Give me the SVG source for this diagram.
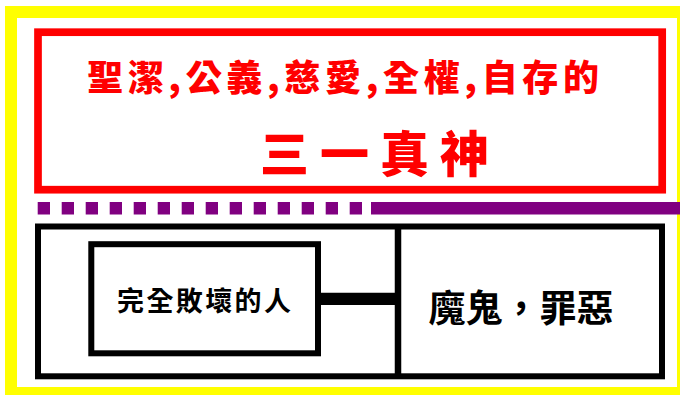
<svg xmlns="http://www.w3.org/2000/svg" width="680" height="395" viewBox="0 0 680 395">
  <style>
    .frame { fill: none; stroke: #000; stroke-width: 6; }
    .red { font-family: "Noto Sans CJK TC", "Noto Sans CJK SC", sans-serif; font-weight: 900; fill: #ff0000; text-anchor: middle; }
    .blk { font-family: "Noto Sans CJK TC", "Noto Sans CJK SC", serif; font-weight: 700; fill: #000; text-anchor: middle; }
  </style>
  <rect x="0" y="0" width="680" height="395" fill="#ffffff"/>
  <g id="border">
    <rect x="11" y="12" width="672" height="381" fill="none" stroke="#ffff00" stroke-width="12"/>
  </g>
  <g id="title">
    <rect x="38" y="32.2" width="624.2" height="157.5" fill="none" stroke="#ff0000" stroke-width="7.7"/>
    <text class="red" x="343" y="91" font-size="36" textLength="512">聖潔,公義,慈愛,全權,自存的</text>
    <text class="red" x="374.5" y="172" font-size="49" textLength="229">三一真神</text>
  </g>
  <g id="separator">
    <line x1="37.7" y1="208.3" x2="362.5" y2="208.3" stroke="#800080" stroke-width="12.5" stroke-dasharray="12.3 11.7"/>
    <line x1="371" y1="208.3" x2="680" y2="208.3" stroke="#800080" stroke-width="12.5"/>
  </g>
  <g id="outer-box">
    <rect class="frame" x="38" y="226.5" width="624" height="149.8"/>
    <line x1="398" y1="226.5" x2="398" y2="376.3" stroke="#000" stroke-width="6.5"/>
  </g>
  <g id="node-man">
    <rect class="frame" x="91.3" y="244.2" width="226.7" height="109.1"/>
    <text class="blk" x="204" y="311" font-size="27" textLength="174">完全敗壞的人</text>
  </g>
  <g id="node-devil">
    <text class="blk" x="521" y="322" font-size="37" textLength="185">魔鬼，罪惡</text>
  </g>
  <g id="connectors">
    <line x1="321" y1="298.9" x2="395" y2="298.9" stroke="#000" stroke-width="12.3"/>
  </g>
</svg>
